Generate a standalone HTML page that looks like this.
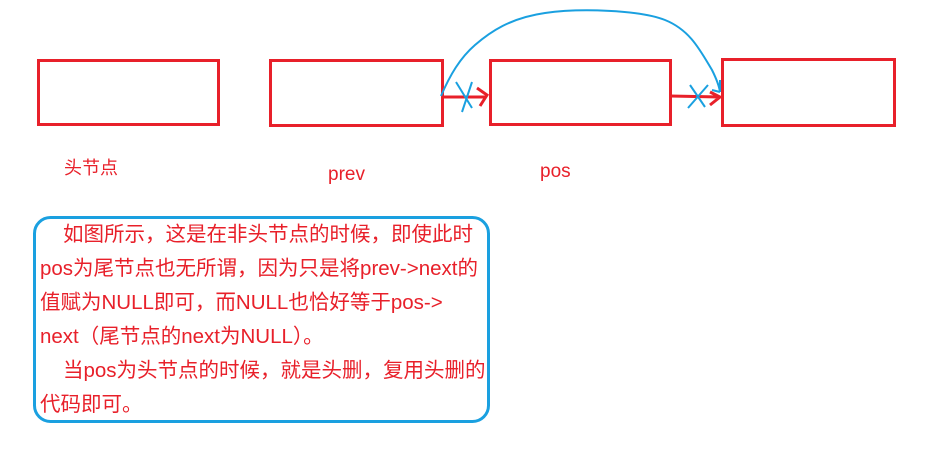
<!DOCTYPE html>
<html><head><meta charset="utf-8"><style>
body{margin:0;background:#fff;}
svg{display:block;}
text{font-family:"Liberation Sans","Noto Sans CJK SC",sans-serif;fill:#e8202a;}
</style></head><body>
<svg width="936" height="449" xmlns="http://www.w3.org/2000/svg">
<g fill="none" stroke="#e8202a" stroke-width="3">
<rect x="38.5" y="60.5" width="180" height="64"/>
<rect x="270.5" y="60.5" width="172" height="65"/>
<rect x="490.5" y="60.5" width="180" height="64"/>
<rect x="722.5" y="59.5" width="172" height="66"/>
<path d="M442 97 L486 97 M477 88 L487 95 L480 106"/>
<path d="M670 96 L720 97 M710 92 L720 97 L710 105"/>
</g>
<g fill="none" stroke="#1aa0e0" stroke-width="2">
<path d="M441 96 C450 75 460 58 475 45 C490 32 510 18 545 13 C580 8 640 10 665 20 C690 30 700 50 712 70 C716 78 719 85 720 92"/>
<path d="M456 82 L472 108 M472 82 L462 112"/>
<path d="M690 85 L705 107 M708 85 L688 108"/>
<path d="M720 80 L720 92 M712 90 L720 92"/>
</g>
<text x="64" y="174" font-size="18">头节点</text>
<text x="328" y="180" font-size="19">prev</text>
<text x="540" y="177" font-size="19">pos</text>
<rect x="34.5" y="217.5" width="454" height="204" rx="16" fill="none" stroke="#1aa0e0" stroke-width="3"/>
<g font-size="20.5">
<text x="63" y="241">如图所示，这是在非头节点的时候，即使此时</text>
<text x="40" y="275">pos为尾节点也无所谓，因为只是将prev-&gt;next的</text>
<text x="40" y="309">值赋为NULL即可，而NULL也恰好等于pos-&gt;</text>
<text x="40" y="343">next（尾节点的next为NULL）。</text>
<text x="63" y="377">当pos为头节点的时候，就是头删，复用头删的</text>
<text x="40" y="411">代码即可。</text>
</g>
</svg>
</body></html>
